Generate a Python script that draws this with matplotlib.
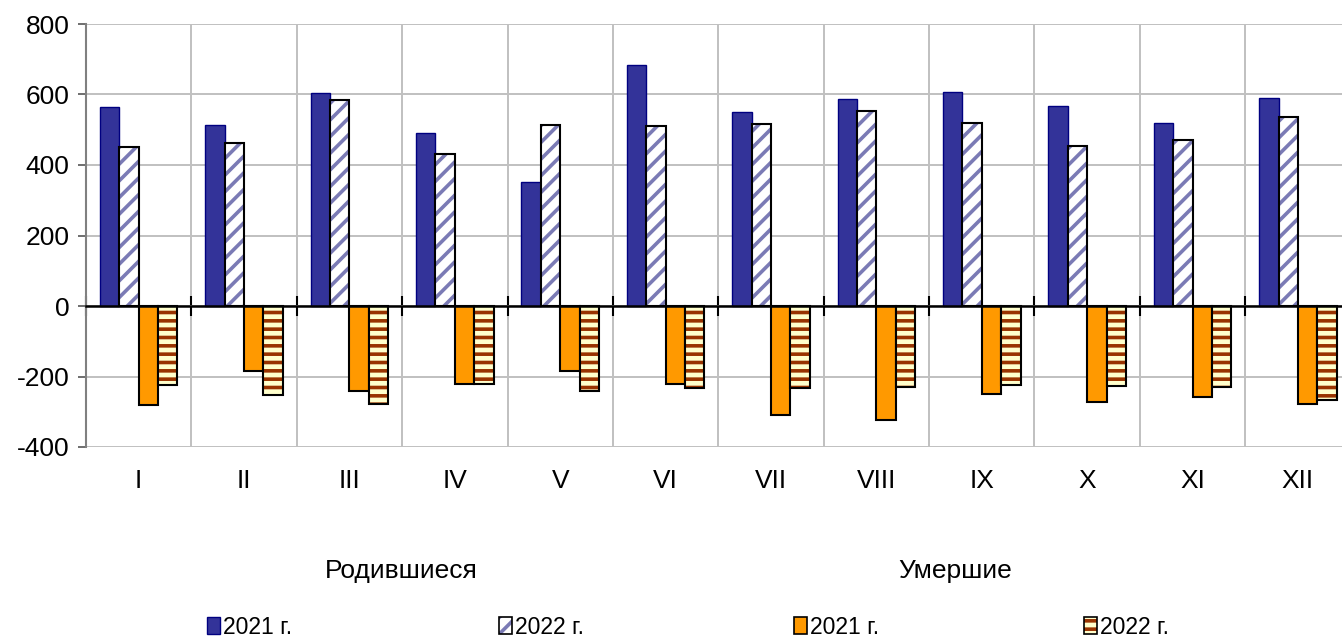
import numpy as np
import matplotlib
matplotlib.use("Agg")
import matplotlib.pyplot as plt
from matplotlib.patches import Patch
from matplotlib.legend_handler import HandlerTuple
from matplotlib import font_manager

months = ["I", "II", "III", "IV", "V", "VI", "VII", "VIII", "IX", "X", "XI", "XII"]
born_2021 = [565, 514, 605, 490, 352, 683, 550, 588, 608, 567, 520, 590]
born_2022 = [451, 462, 583, 432, 514, 510, 515, 553, 520, 453, 470, 535]
died_2021 = [-280, -183, -240, -222, -183, -222, -310, -323, -250, -273, -258, -278]
died_2022 = [-225, -253, -277, -222, -240, -233, -232, -230, -225, -227, -230, -267]
group_labels = ["Родившиеся", "Умершие"]
series_labels = ["2021 г.", "2022 г.", "2021 г.", "2022 г."]

names = {f.name for f in font_manager.fontManager.ttflist}
main_font = "Liberation Sans" if "Liberation Sans" in names else "DejaVu Sans"
narrow_font = "Liberation Sans Narrow" if "Liberation Sans Narrow" in names else main_font
plt.rcParams["font.family"] = [main_font, "DejaVu Sans"]
plt.rcParams["axes.unicode_minus"] = False
plt.rcParams["hatch.linewidth"] = 2.6

BLUE = "#333399"
HATCH_BLUE = "#7b7bb5"
ORANGE = "#ff9900"
BROWN = "#993300"
CREAM = "#ffffcc"

fig = plt.figure(figsize=(13.42, 6.38), dpi=100)
# axes runs a little past the right edge, like the original (clipped)
ax = fig.add_axes([86 / 1342, 1 - 447 / 638, 1264.6 / 1342, 423 / 638])

x = np.arange(len(months))
w = 0.184

ax.bar(x - 1.5 * w, born_2021, w, color=BLUE, edgecolor="#000080", linewidth=1.0, zorder=3)
ax.bar(x - 0.5 * w, born_2022, w, color="white", edgecolor=HATCH_BLUE, hatch="//", linewidth=0, zorder=3)
ax.bar(x - 0.5 * w, born_2022, w, fill=False, edgecolor="black", linewidth=1.5, zorder=4)
ax.bar(x + 0.5 * w, died_2021, w, color=ORANGE, edgecolor="black", linewidth=1.5, zorder=3)
ax.bar(x + 1.5 * w, died_2022, w, color=CREAM, edgecolor=BROWN, hatch="--", linewidth=0, zorder=3)
ax.bar(x + 1.5 * w, died_2022, w, fill=False, edgecolor="black", linewidth=1.5, zorder=4)

ax.set_xlim(-0.5, len(months) - 0.5)
ax.set_ylim(-400, 800)
ax.set_yticks(np.arange(-400, 801, 200))
ax.tick_params(axis="y", labelsize=19, length=6, width=1.2, color="#555555", pad=6)

ax.spines["top"].set_visible(False)
ax.spines["right"].set_visible(False)
ax.spines["left"].set_color("#808080")
ax.spines["left"].set_linewidth(1.5)
ax.spines["bottom"].set_position(("data", 0))
ax.spines["bottom"].set_linewidth(1.8)
ax.spines["bottom"].set_zorder(6)

ax.set_xticks(x)
ax.set_xticklabels(months)
ax.set_xticks(np.arange(-0.5, len(months), 1), minor=True)
ax.tick_params(axis="x", which="major", length=0, labelsize=19, pad=117)
ax.tick_params(axis="x", which="minor", direction="inout", length=14, width=1.5, color="black")

ax.grid(axis="y", which="major", color="#c0c0c0", linewidth=1.4, zorder=0)
ax.grid(axis="x", which="minor", color="#c0c0c0", linewidth=1.4, zorder=0)
ax.set_axisbelow(True)

fig.text(401 / 1342, 1 - 571 / 638, group_labels[0], ha="center", va="center", fontsize=19)
fig.text(955 / 1342, 1 - 571 / 638, group_labels[1], ha="center", va="center", fontsize=19)

handles = [
    Patch(facecolor=BLUE, edgecolor="#000080", linewidth=1.0),
    (Patch(facecolor="white", edgecolor=HATCH_BLUE, hatch="//", linewidth=0),
     Patch(fill=False, edgecolor="black", linewidth=1.2)),
    Patch(facecolor=ORANGE, edgecolor="black", linewidth=1.2),
    (Patch(facecolor=CREAM, edgecolor=BROWN, hatch="--", linewidth=0),
     Patch(fill=False, edgecolor="black", linewidth=1.2)),
]
legend_x = [207, 499, 794, 1084]
for hx, h, lab in zip(legend_x, handles, series_labels):
    fig.legend([h], [lab], loc="center left", bbox_to_anchor=(hx / 1342, 1 - 627 / 638),
               frameon=False, handlelength=0.55, handleheight=0.75, handletextpad=0.15,
               borderpad=0, borderaxespad=0,
               prop={"family": [narrow_font, "DejaVu Sans"], "size": 16.5},
               handler_map={tuple: HandlerTuple(ndivide=1, pad=0)})

fig.savefig("out.png", dpi=100)
